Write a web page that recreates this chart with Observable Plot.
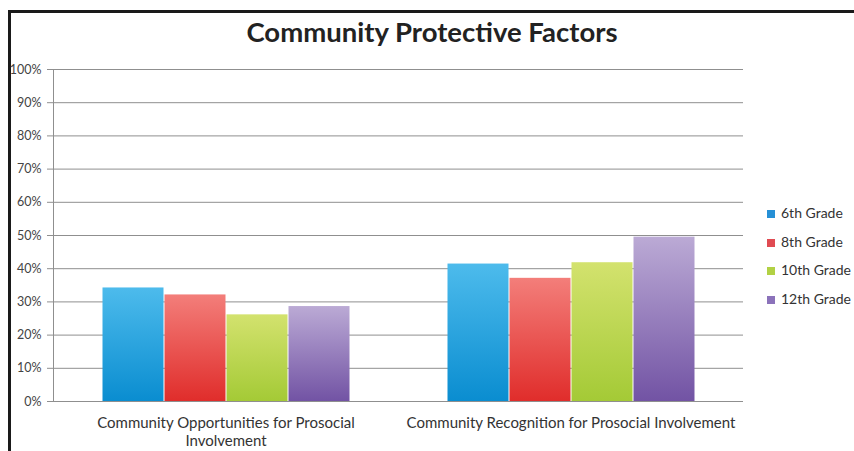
<!DOCTYPE html>
<html>
<head>
<meta charset="utf-8">
<script src="https://cdn.jsdelivr.net/npm/d3@7"></script>
<script src="https://cdn.jsdelivr.net/npm/@observablehq/plot@0.6"></script>
<style>
  html, body { margin: 0; padding: 0; background: #fff; }
  #wrap { position: relative; width: 854px; height: 451px; overflow: hidden; font-family: Lato, "Open Sans", sans-serif; }
  #border { position: absolute; left: 8px; top: 10px; width: 900px; height: 500px; border-top: 3px solid #1a1a1a; border-left: 3px solid #1a1a1a; box-sizing: border-box; }
  #title { position: absolute; left: 0; width: 864px; top: 15px; text-align: center; font-family: Lato, sans-serif; font-weight: bold; font-size: 27.5px; color: #222; }
  #chart { position: absolute; left: 0; top: 0; }
  #legend { position: absolute; left: 767px; top: 204px; font-family: Lato, sans-serif; font-size: 14px; color: #333; }
  #legend .item { height: 28.7px; display: flex; align-items: flex-start; }
  #legend .sw { width: 8px; height: 8px; margin-top: 6px; margin-right: 6px; }
</style>
</head>
<body>
<div id="wrap">
  <div id="border"></div>
  <div id="chart"></div>
  <div id="title"></div>
  <div id="legend"></div>
</div>
<script>
const title = "Community Protective Factors";
const categories = ["Community Opportunities for Prosocial Involvement", "Community Recognition for Prosocial Involvement"];
const categoryLabels = ["Community Opportunities for Prosocial\nInvolvement", "Community Recognition for Prosocial Involvement"];
const grades = ["6th Grade", "8th Grade", "10th Grade", "12th Grade"];
const grade6 = [0.342, 0.414];
const grade8 = [0.321, 0.371];
const grade10 = [0.261, 0.418];
const grade12 = [0.286, 0.495];
const yTicks = [0, 0.1, 0.2, 0.3, 0.4, 0.5, 0.6, 0.7, 0.8, 0.9, 1.0];
const gradTop = ["#4dbbec", "#f37e7a", "#d3e26e", "#bbaad5"];
const gradBottom = ["#0a8dd0", "#e02d2b", "#a4ca36", "#7253a4"];
const swatch = ["#2690d6", "#e04b52", "#b2d144", "#8b72ba"];

const series = [grade6, grade8, grade10, grade12];
const data = [];
categories.forEach((c, ci) => grades.forEach((g, gi) => data.push({category: c, grade: g, value: series[gi][ci]})));

document.getElementById("title").textContent = title;

const defsMark = () => {
  const defs = d3.create("svg:defs");
  grades.forEach((g, i) => {
    const lg = defs.append("linearGradient").attr("id", "grad" + i)
      .attr("x1", 0).attr("y1", 0).attr("x2", 0).attr("y2", 1);
    lg.append("stop").attr("offset", "0%").attr("stop-color", gradTop[i]);
    lg.append("stop").attr("offset", "100%").attr("stop-color", gradBottom[i]);
  });
  return defs.node();
};

const chart = Plot.plot({
  width: 854,
  height: 451,
  marginLeft: 53,
  marginRight: 111,
  marginTop: 69,
  marginBottom: 50,
  style: {fontFamily: "Lato, sans-serif", fontSize: "12.5px", color: "#444", background: "transparent"},
  fx: {domain: categories, padding: 0, label: null, axis: null},
  x: {domain: grades, paddingInner: 0, paddingOuter: 0.76, axis: null},
  y: {domain: [0, 1], label: null},
  color: {domain: grades, range: grades.map((g, i) => `url(#grad${i})`)},
  marks: [
    defsMark,
    Plot.gridY(yTicks, {stroke: "#8f8f8f", strokeOpacity: 1, strokeWidth: 1}),
    Plot.axisY(yTicks, {tickFormat: d3.format(".0%"), tickSize: 6, tickPadding: 6, stroke: "#8f8f8f", fontSize: 12.5, facetAnchor: "left"}),
    Plot.barY(data, {fx: "category", x: "grade", y: "value", fill: "grade", insetLeft: 0.5, insetRight: 0.5}),
    Plot.ruleY([0], {stroke: "#8f8f8f"}),
    Plot.frame({anchor: "left", facet: "super", stroke: "#8f8f8f"}),
    Plot.axisFx({anchor: "bottom", tickSize: 0, tickPadding: 14, fontSize: 15, lineHeight: 1.2, fill: "#333", tickFormat: (d) => categoryLabels[categories.indexOf(d)], label: null})
  ]
});
document.getElementById("chart").appendChild(chart);

const legend = document.getElementById("legend");
grades.forEach((g, i) => {
  const item = document.createElement("div");
  item.className = "item";
  const sw = document.createElement("div");
  sw.className = "sw";
  sw.style.background = swatch[i];
  const t = document.createElement("span");
  t.textContent = g;
  item.appendChild(sw);
  item.appendChild(t);
  legend.appendChild(item);
});
</script>
</body>
</html>
